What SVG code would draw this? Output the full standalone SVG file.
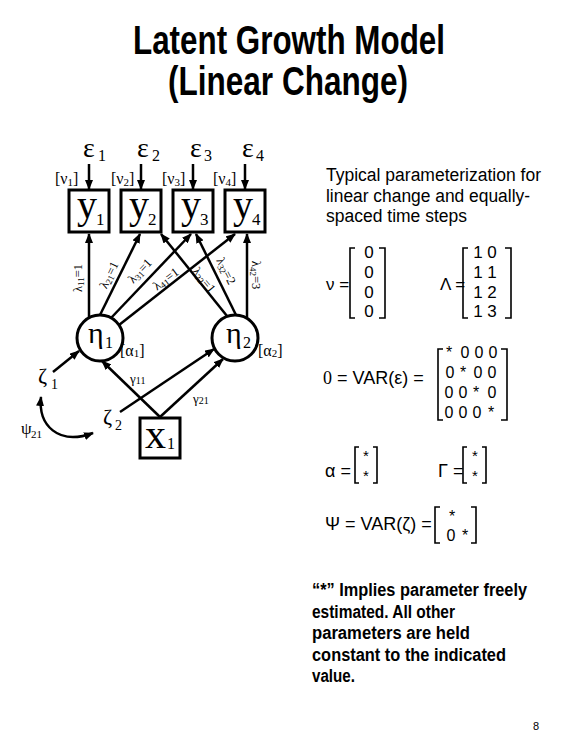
<svg xmlns="http://www.w3.org/2000/svg" width="576" height="756" viewBox="0 0 576 756">
<defs>
<marker id="ah" viewBox="0 0 10 8" refX="9" refY="4" markerWidth="10" markerHeight="8" markerUnits="userSpaceOnUse" orient="auto-start-reverse">
<path d="M0,0 L10,4 L0,8 z" fill="#000"/>
</marker>
<style>
.sans{font-family:"Liberation Sans",Arial,sans-serif;fill:#000}
.serif{font-family:"Liberation Serif","Times New Roman",serif;fill:#000}
.box{fill:#fff;stroke:#000;stroke-width:3}
.circ{fill:#fff;stroke:#000;stroke-width:3}
.ln{stroke:#000;stroke-width:2.5;fill:none;marker-end:url(#ah)}
.br{stroke:#000;stroke-width:1.6;fill:none}
.lam{font-family:"Liberation Serif","Times New Roman",serif;font-size:12.5px;fill:#000}
</style>
</defs>
<rect width="576" height="756" fill="#fff"/>

<g id="title" class="sans" font-weight="bold" font-size="40" text-anchor="middle">
<text x="289" y="54" textLength="312" lengthAdjust="spacingAndGlyphs">Latent Growth Model</text>
<text x="288" y="95" textLength="240" lengthAdjust="spacingAndGlyphs">(Linear Change)</text>
</g>

<g id="connectors">
<line class="ln" x1="89" y1="164" x2="89" y2="189"/>
<line class="ln" x1="141" y1="164" x2="141" y2="189"/>
<line class="ln" x1="193" y1="164" x2="193" y2="189"/>
<line class="ln" x1="245" y1="164" x2="245" y2="189"/>
<line class="ln" x1="89" y1="318" x2="89" y2="234"/>
<line class="ln" x1="100" y1="315" x2="140" y2="234"/>
<line class="ln" x1="111" y1="318" x2="191" y2="234"/>
<line class="ln" x1="119" y1="325" x2="235" y2="234"/>
<line class="ln" x1="227" y1="316" x2="161" y2="234"/>
<line class="ln" x1="236" y1="315" x2="196" y2="234"/>
<line class="ln" x1="247" y1="318" x2="247" y2="234"/>
<line class="ln" x1="53" y1="372" x2="79" y2="351"/>
<line class="ln" x1="120" y1="412" x2="214" y2="349"/>
<line class="ln" x1="160" y1="417" x2="102" y2="361"/>
<line class="ln" x1="160" y1="417" x2="223" y2="359"/>
<path d="M41,397 C38,425 58,446 93,433" stroke="#000" stroke-width="2.5" fill="none" marker-start="url(#ah)" marker-end="url(#ah)"/>
</g>

<g id="loading-labels" class="lam">
<text transform="translate(78,278) rotate(-90)" text-anchor="middle" y="4">λ<tspan font-size="9" dy="2">11</tspan><tspan dy="-2">=1</tspan></text>
<text transform="translate(109,275) rotate(-64)" text-anchor="middle" y="4">λ<tspan font-size="9" dy="2">21</tspan><tspan dy="-2">=1</tspan></text>
<text transform="translate(140,271) rotate(-47)" text-anchor="middle" y="4">λ<tspan font-size="9" dy="2">31</tspan><tspan dy="-2">=1</tspan></text>
<text transform="translate(166,279) rotate(-37)" text-anchor="middle" y="4">λ<tspan font-size="9" dy="2">41</tspan><tspan dy="-2">=1</tspan></text>
<text transform="translate(204,280) rotate(51)" text-anchor="middle" y="4">λ<tspan font-size="9" dy="2">22</tspan><tspan dy="-2">=1</tspan></text>
<text transform="translate(226,271) rotate(63)" text-anchor="middle" y="4">λ<tspan font-size="9" dy="2">32</tspan><tspan dy="-2">=2</tspan></text>
<text transform="translate(256,275) rotate(90)" text-anchor="middle" y="4">λ<tspan font-size="9" dy="2">42</tspan><tspan dy="-2">=3</tspan></text>
</g>

<g id="eps1" class="serif"><text x="83" y="157" font-size="28">ε</text><text x="98" y="161" font-size="16">1</text></g>
<g id="eps2" class="serif"><text x="137" y="157" font-size="28">ε</text><text x="152" y="161" font-size="16">2</text></g>
<g id="eps3" class="serif"><text x="190" y="157" font-size="28">ε</text><text x="204" y="161" font-size="16">3</text></g>
<g id="eps4" class="serif"><text x="242" y="157" font-size="28">ε</text><text x="256" y="161" font-size="16">4</text></g>

<g id="nu-labels" class="serif" font-size="16">
<text x="55" y="184">[ν<tspan font-size="11" dy="2">1</tspan><tspan dy="-2">]</tspan></text>
<text x="111" y="184">[ν<tspan font-size="11" dy="2">2</tspan><tspan dy="-2">]</tspan></text>
<text x="162" y="184">[ν<tspan font-size="11" dy="2">3</tspan><tspan dy="-2">]</tspan></text>
<text x="213" y="184">[ν<tspan font-size="11" dy="2">4</tspan><tspan dy="-2">]</tspan></text>
</g>

<g id="y1"><rect class="box" x="69" y="190" width="40" height="42"/><text class="serif" x="77" y="218" font-size="40">y</text><text class="serif" x="96" y="225" font-size="17">1</text></g>
<g id="y2"><rect class="box" x="121" y="190" width="40" height="42"/><text class="serif" x="129" y="218" font-size="40">y</text><text class="serif" x="148" y="225" font-size="17">2</text></g>
<g id="y3"><rect class="box" x="173" y="190" width="40" height="42"/><text class="serif" x="181" y="218" font-size="40">y</text><text class="serif" x="200" y="225" font-size="17">3</text></g>
<g id="y4"><rect class="box" x="225" y="190" width="40" height="42"/><text class="serif" x="233" y="218" font-size="40">y</text><text class="serif" x="252" y="225" font-size="17">4</text></g>

<g id="eta1"><circle class="circ" cx="100" cy="338" r="23"/><text class="serif" x="88" y="343" font-size="30">η</text><text class="serif" x="105" y="348" font-size="16">1</text></g>
<g id="eta2"><circle class="circ" cx="235" cy="338" r="23"/><text class="serif" x="226" y="343" font-size="30">η</text><text class="serif" x="243" y="348" font-size="16">2</text></g>

<g id="alpha-labels" class="serif" font-size="16">
<text x="120" y="356">[α<tspan font-size="11" dy="1">1</tspan><tspan dy="-1">]</tspan></text>
<text x="258" y="356">[α<tspan font-size="11" dy="1">2</tspan><tspan dy="-1">]</tspan></text>
</g>

<g id="zeta1" class="serif"><text x="38" y="383" font-size="22">ζ</text><text x="51" y="389" font-size="14">1</text></g>
<g id="zeta2" class="serif"><text x="103" y="424" font-size="22">ζ</text><text x="115" y="430" font-size="14">2</text></g>
<g id="psi21" class="serif"><text x="21" y="434" font-size="17">ψ</text><text x="31" y="438" font-size="11">21</text></g>
<g id="gammas" class="serif">
<text x="130" y="383" font-size="13">γ<tspan font-size="10" dy="1">11</tspan></text>
<text x="193" y="403" font-size="13">γ<tspan font-size="10" dy="1">21</tspan></text>
</g>

<g id="x1"><rect class="box" x="140" y="418" width="40" height="40"/><text class="serif" x="145" y="448" font-size="42">x</text><text class="serif" x="167" y="449" font-size="16">1</text></g>

<g id="desc" class="sans" font-size="18">
<text x="326" y="181" textLength="215" lengthAdjust="spacingAndGlyphs">Typical parameterization for</text>
<text x="326" y="202" textLength="204" lengthAdjust="spacingAndGlyphs">linear change and equally-</text>
<text x="326" y="222" textLength="141" lengthAdjust="spacingAndGlyphs">spaced time steps</text>
</g>

<g id="nu-matrix" class="sans" font-size="17">
<text x="326" y="290">ν =</text>
<path class="br" d="M355,248 H350 V318 H355"/>
<path class="br" d="M379,248 H385 V318 H379"/>
<g text-anchor="middle"><text x="369" y="258">0</text><text x="369" y="278">0</text><text x="369" y="298">0</text><text x="369" y="317">0</text></g>
</g>

<g id="lambda-matrix" class="sans" font-size="17">
<text x="440" y="290">Λ =</text>
<path class="br" d="M468,248 H463 V318 H468"/>
<path class="br" d="M505,248 H511 V318 H505"/>
<g text-anchor="middle"><text x="485" y="258">1 0</text><text x="485" y="278">1 1</text><text x="485" y="298">1 2</text><text x="485" y="317">1 3</text></g>
</g>

<g id="theta-matrix" class="sans" font-size="18">
<text x="323" y="384"><tspan class="serif">0</tspan> = VAR(ε) =</text>
<path class="br" d="M443,349 H438 V420 H443"/>
<path class="br" d="M501,349 H507 V420 H501"/>
<g text-anchor="middle" font-size="16">
<text x="449" y="358">*</text><text x="465" y="358">0</text><text x="479" y="358">0</text><text x="493" y="358">0</text>
<text x="450" y="378">0</text><text x="463" y="378">*</text><text x="478" y="378">0</text><text x="492" y="378">0</text>
<text x="449" y="398">0</text><text x="463" y="398">0</text><text x="476" y="398">*</text><text x="492" y="398">0</text>
<text x="449" y="418">0</text><text x="463" y="418">0</text><text x="477" y="418">0</text><text x="491" y="418">*</text>
</g>
</g>

<g id="alpha-vec" class="sans" font-size="18">
<text x="325" y="477">α =</text>
<path class="br" d="M359,447 H355 V483 H359"/>
<path class="br" d="M373,447 H377 V483 H373"/>
<g text-anchor="middle" font-size="15"><text x="366" y="461">*</text><text x="366" y="481">*</text></g>
</g>

<g id="gamma-vec" class="sans" font-size="18">
<text x="438" y="477">Γ =</text>
<path class="br" d="M467,447 H463 V483 H467"/>
<path class="br" d="M482,447 H486 V483 H482"/>
<g text-anchor="middle" font-size="15"><text x="475" y="461">*</text><text x="475" y="481">*</text></g>
</g>

<g id="psi-matrix" class="sans" font-size="18">
<text x="325" y="530">Ψ = VAR(ζ) =</text>
<path class="br" d="M440,507 H435 V543 H440"/>
<path class="br" d="M471,507 H476 V543 H471"/>
<g text-anchor="middle" font-size="16"><text x="452" y="522">*</text><text x="451" y="541">0</text><text x="465" y="541">*</text></g>
</g>

<g id="note" class="sans" font-size="17.5" font-weight="bold">
<text x="312" y="596" textLength="215" lengthAdjust="spacingAndGlyphs">“*” Implies parameter freely</text>
<text x="312" y="617.5" textLength="143" lengthAdjust="spacingAndGlyphs">estimated. All other</text>
<text x="312" y="639" textLength="158" lengthAdjust="spacingAndGlyphs">parameters are held</text>
<text x="312" y="660.5" textLength="194" lengthAdjust="spacingAndGlyphs">constant to the indicated</text>
<text x="312" y="682" textLength="43" lengthAdjust="spacingAndGlyphs">value.</text>
</g>

<text id="page" class="sans" x="533" y="730" font-size="11">8</text>
</svg>
